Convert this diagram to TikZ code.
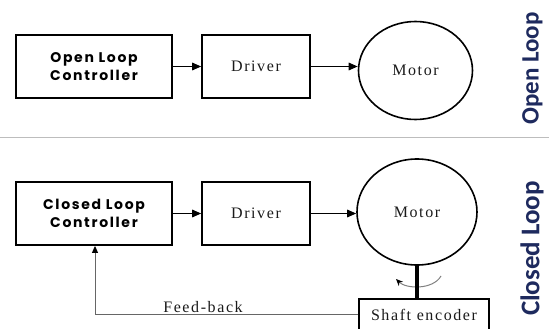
\documentclass[tikz,border=0pt]{standalone}
\usepackage{fontspec}
\setmainfont{Liberation Serif}
\newfontfamily\ctrlfont[LetterSpace=12]{Poppins}
\newfontfamily\sidefont{Carlito}
\newfontfamily\serifsp[LetterSpace=10]{Liberation Serif}
\usetikzlibrary{arrows.meta,shapes.geometric}
\definecolor{navy}{HTML}{1E2A5E}
\definecolor{sepgray}{HTML}{BDBDBD}
\definecolor{ink}{HTML}{1A1A1A}
\tikzset{
  blk/.style={draw=black, line width=1.8pt, minimum width=156pt, minimum height=63pt, align=center, inner sep=0pt},
  drv/.style={draw=black, line width=1.6pt, minimum width=108pt, minimum height=63pt, inner sep=0pt, text=ink, font=\serifsp\fontsize{16}{18}\selectfont},
  mot/.style={draw=black, line width=1.6pt, ellipse, inner sep=0pt, text=ink, font=\serifsp\fontsize{16}{18}\selectfont},
  ctrl/.style={font=\ctrlfont\bfseries\fontsize{14}{17.5}\selectfont},
  flow/.style={line width=1.5pt, -{Triangle[length=9pt,width=7.5pt]}},
  side/.style={rotate=90, text=navy, font=\sidefont\bfseries\fontsize{25}{28}\selectfont},
}
\begin{document}
\begin{tikzpicture}[x=1pt,y=-1pt]
\useasboundingbox (0,0) rectangle (549,329);
\fill[white] (0,0) rectangle (549,329);
% separator
\draw[sepgray, line width=1.2pt] (0,137.5) -- (549,137.5);
% ---------- open loop ----------
\node[blk, ctrl] (olc) at (94,66.5) {Open Loop\\Controller};
\node[drv] (drv1) at (256,66.5) {Driver};
\node[mot, minimum width=114pt, minimum height=98pt] (mot1) at (415.5,70.5) {Motor};
\draw[flow] (olc.east) -- (drv1.west);
\draw[flow] (drv1.east) -- (mot1.west |- drv1.east);
\node[side] (lab1) at (532.5,68.5) {Open Loop};
% ---------- closed loop ----------
\node[blk, ctrl] (clc) at (94,213.5) {Closed Loop\\Controller};
\node[drv] (drv2) at (256,213.5) {Driver};
\node[mot, minimum width=120pt, minimum height=106pt] (mot2) at (417,212) {Motor};
\draw[flow] (clc.east) -- (drv2.west);
\draw[flow] (drv2.east) -- (mot2.west |- drv2.east);
\node[draw=black, line width=1.4pt, minimum width=130pt, minimum height=32pt, inner sep=0pt, text=ink,
      font=\serifsp\fontsize{16}{18}\selectfont] (enc) at (424,315) {Shaft encoder};
% rotation arc
\coordinate (arcA) at (441,276);
\coordinate (arcB) at (396,279);
\draw[gray, line width=1pt, -{Stealth[length=7pt,width=6pt,color=black]}]
  (arcA) .. controls (433,290) and (406,289) .. (arcB);
% shaft
\draw[black, line width=4pt] (mot2.south) -- (enc.north -| mot2.south);
% feedback
\coordinate (fbc) at (95,314);
\draw[gray!80!black, line width=0.9pt, -{Triangle[length=7pt,width=6pt,color=black]}]
  (enc.west |- fbc) -- (fbc) -- (clc.south -| fbc);
\node[font=\serifsp\fontsize{16}{18}\selectfont, text=ink, anchor=base] (fb) at (203,312.5) {Feed-back};
\node[side, font=\sidefont\bfseries\fontsize{27}{30}\selectfont] (lab2) at (532,248.5) {Closed Loop};
\end{tikzpicture}
\end{document}
